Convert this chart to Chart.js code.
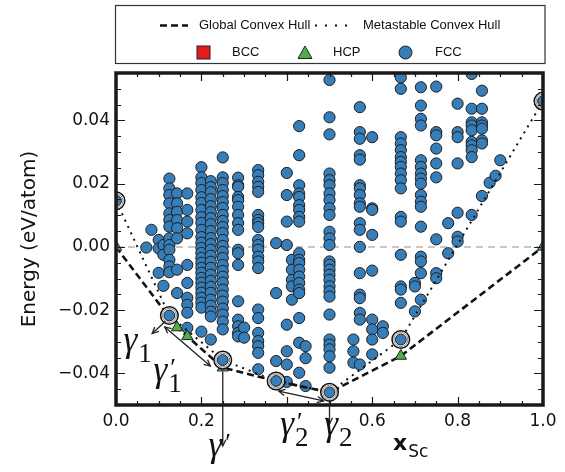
<!DOCTYPE html>
<html>
<head>
<meta charset="utf-8">
<script src="https://cdn.jsdelivr.net/npm/chart.js@4.4.1/dist/chart.umd.min.js"></script>
<style>
  html, body { margin: 0; padding: 0; background: #fff; }
  #chart-wrap { width: 565px; height: 472px; }
</style>
</head>
<body>
<div id="chart-wrap"><canvas id="chart-canvas" width="565" height="472"></canvas></div>
<script>
// Sc fraction x and formation energy (eV/atom)
const fccComp = [0.071, 0.083, 0.1, 0.111, 0.125, 0.143, 0.167, 0.2, 0.222, 0.25, 0.286, 0.3, 0.333,
  0.375, 0.4, 0.412, 0.429, 0.444, 0.5, 0.556, 0.571, 0.6, 0.625, 0.667, 0.7, 0.714, 0.75, 0.778,
  0.8, 0.833, 0.857, 0.875, 0.889, 0.9];
const fccEnergy = [
  [-0.0002],
  [0.0054],
  [0.0022, -0.0005, -0.0082],
  [0.0006, -0.0025, -0.0123],
  [0.0216, 0.0185, 0.0164, 0.0138, 0.0106, 0.0085, 0.0064, 0.0027, 0.0006, -0.0009, -0.0041, -0.0062, -0.0080],
  [0.0169, 0.0138, 0.0111, 0.0085, 0.0059, 0.0027, -0.0072, -0.0146],
  [0.0169, 0.0117, 0.0080, 0.0043, -0.0057, -0.0114, -0.0161, -0.0183, -0.0208, -0.0256],
  [0.0252, 0.0220, 0.0202, 0.0180, 0.0157, 0.0139, 0.0117, 0.0094, 0.0076, 0.0054, 0.0031, 0.0013, -0.0003,
   -0.0019, -0.0035, -0.0050, -0.0066, -0.0082, -0.0098, -0.0113, -0.0129, -0.0145, -0.0161, -0.0176, -0.0192, -0.0268],
  [0.0208, 0.0189, 0.0173, 0.0151, 0.0129, 0.0110, 0.0091, 0.0072, 0.0050, 0.0028, 0.0009, -0.0009, -0.0028,
   -0.0047, -0.0066, -0.0088, -0.0107, -0.0126, -0.0145, -0.0167, -0.0186, -0.0205, -0.0220, -0.0293],
  [0.0283, 0.0220, 0.0202, 0.0180, 0.0161, 0.0142, 0.0123, 0.0101, 0.0082, 0.0063, 0.0044, 0.0022, 0.0003,
   -0.0016, -0.0035, -0.0057, -0.0076, -0.0094, -0.0113, -0.0135, -0.0154, -0.0173, -0.0195, -0.0214, -0.0236, -0.0261],
  [0.0219, 0.0195, 0.0190, 0.0158, 0.0148, 0.0127, 0.0101, 0.0075, 0.0054, -0.0009, -0.0020, -0.0057, -0.0172,
   -0.0230, -0.0251, -0.0272, -0.0283],
  [-0.0255, -0.0287],
  [0.0243, 0.0227, 0.0206, 0.0190, 0.0174, 0.0101, 0.0085, 0.0075, 0.0063, 0.0022, 0.0006, -0.0009, -0.0031,
   -0.0046, -0.0067, -0.0198, -0.0225, -0.0272, -0.0298, -0.0314, -0.0335, -0.0387],
  [0.0012, -0.0146, -0.0361],
  [0.0234, 0.0164, 0.0080, 0.0006, -0.0246, -0.0330, -0.0372, -0.0427],
  [-0.0041, -0.0072, -0.0104, -0.0125, -0.0167],
  [0.0382, 0.0290, 0.0195, 0.0169, 0.0158, 0.0132, 0.0117, 0.0095, 0.0080, -0.0020, -0.0041, -0.0051, -0.0072,
   -0.0094, -0.0114, -0.0135, -0.0146, -0.0225, -0.0303, -0.0398],
  [-0.0314, -0.0352, -0.0440],
  [0.0528, 0.0410, 0.0356, 0.0232, 0.0211, 0.0195, 0.0169, 0.0148, 0.0122, 0.0101, 0.0048, 0.0027, 0.0006,
   -0.0046, -0.0057, -0.0072, -0.0088, -0.0104, -0.0125, -0.0141, -0.0157, -0.0214, -0.0293, -0.0309, -0.0324, -0.0346, -0.0382],
  [-0.0293, -0.0330, -0.0366],
  [0.0442, 0.0363, 0.0342, 0.0290, 0.0276, 0.0195, 0.0185, 0.0164, 0.0138, 0.0127, 0.0075, 0.0054, 0.0000,
   -0.0083, -0.0151, -0.0162, -0.0209, -0.0230, -0.0372],
  [0.0347, 0.0122, 0.0117, 0.0038, -0.0075, -0.0230, -0.0261, -0.0293, -0.0340],
  [-0.0251, -0.0272],
  [0.0536, 0.0500, 0.0347, 0.0327, 0.0306, 0.0284, 0.0269, 0.0253, 0.0232, 0.0211, 0.0185, 0.0095, 0.0080,
   -0.0025, -0.0125, -0.0135, -0.0177],
  [-0.0114, -0.0125, -0.0204],
  [0.0505, 0.0447, 0.0405, 0.0384, 0.0274, 0.0253, 0.0232, 0.0216, 0.0200, 0.0164, 0.0143, 0.0127, 0.0064,
   -0.0031, -0.0046, -0.0083, -0.0167],
  [0.0507, 0.0363, 0.0353, 0.0311, 0.0264, 0.0220, 0.0024, -0.0083, -0.0099],
  [0.0075, -0.0020],
  [0.0453, 0.0363, 0.0347, 0.0264, 0.0108, 0.0032, 0.0017],
  [0.0547, 0.0437, 0.0394, 0.0384, 0.0369, 0.0332, 0.0321, 0.0306, 0.0284, 0.0101],
  [0.0494, 0.0437, 0.0394, 0.0384, 0.0374, 0.0337, 0.0327, 0.0161],
  [0.0203],
  [0.0225],
  [0.0274]
];

// highlighted (ringed) structures on the metastable hull
const ringComp = [0, 0.125, 0.25, 0.375, 0.5, 0.667, 1.0];
const ringEnergy = [0.0146, -0.0217, -0.0358, -0.0424, -0.046, -0.0293, 0.0461];

const hcpComp = [0, 0.143, 0.167, 0.25, 0.667, 1.0];
const hcpEnergy = [0.0, -0.0255, -0.0283, -0.0382, -0.0345, 0.0];

const bccComp = [];
const bccEnergy = [];

const globalComp = [0, 0.143, 0.167, 0.25, 0.375, 0.5, 0.667, 1.0];
const globalEnergy = [0, -0.0255, -0.0283, -0.0382, -0.0424, -0.046, -0.0345, 0];

const metaComp = [0, 0.125, 0.25, 0.375, 0.5, 0.667, 1.0];
const metaEnergy = [0.0146, -0.0217, -0.0358, -0.0424, -0.046, -0.0293, 0.0461];

// 0.4 has no label in the figure (the gamma_2' label sits there)
const xTicks = [0, 0.2, 0.6, 0.8, 1.0];
const yTicks = [-0.04, -0.02, 0, 0.02, 0.04];

// phase labels: gamma anchor (data coords), subscript, prime
const phaseLabels = [
  { x: 0.0175, y: -0.0328, sub: '1', prime: false },
  { x: 0.0877, y: -0.0425, sub: '1', prime: true },
  { x: 0.2164, y: -0.0661, sub: '', prime: true },
  { x: 0.3848, y: -0.0595, sub: '2', prime: true },
  { x: 0.4877, y: -0.0595, sub: '2', prime: false }
];
// arrows: [x0, y0, x1, y1, heads]
const arrows = [
  [0.1158, -0.0235, 0.0847, -0.0274, 'end'],
  [0.1142, -0.0253, 0.2210, -0.0377, 'both'],
  [0.25, -0.0394, 0.25, -0.0630, 'end'],
  [0.381, -0.0456, 0.486, -0.0487, 'both'],
  [0.5, -0.0485, 0.5, -0.0560, 'end']
];

const BLUE = '#377eb8', GREEN = '#4daf4a', RED = '#e41a1c';

const zip = (xs, ys) => xs.map((x, i) => ({ x: x, y: ys[i] }));
const fccPoints = fccComp.flatMap((c, i) => fccEnergy[i].map(e => ({ x: c, y: e })));

function head(ctx, x0, y0, x1, y1) {
  const ang = Math.atan2(y1 - y0, x1 - x0), L = 7, w = 0.45;
  ctx.beginPath();
  ctx.moveTo(x1 - L * Math.cos(ang - w), y1 - L * Math.sin(ang - w));
  ctx.lineTo(x1, y1);
  ctx.lineTo(x1 - L * Math.cos(ang + w), y1 - L * Math.sin(ang + w));
  ctx.stroke();
}

// thick frame with inward major/minor ticks on all four sides
const frameTicks = {
  id: 'frameTicks',
  afterDatasetsDraw(chart) {
    const { ctx, chartArea: a, scales: { x, y } } = chart;
    ctx.save();
    ctx.strokeStyle = '#1a1a1a';
    ctx.lineWidth = 1.2;
    ctx.beginPath();
    for (let i = 0; i <= 20; i++) {
      const px = Math.round(x.getPixelForValue(i * 0.05)) + 0.5;
      const len = i % 4 === 0 ? 8 : 4;
      ctx.moveTo(px, a.bottom); ctx.lineTo(px, a.bottom - len);
      ctx.moveTo(px, a.top); ctx.lineTo(px, a.top + len);
    }
    for (let i = -10; i <= 11; i++) {
      const py = Math.round(y.getPixelForValue(i * 0.005)) + 0.5;
      const len = i % 4 === 0 ? 9 : 5;
      ctx.moveTo(a.left, py); ctx.lineTo(a.left + len, py);
      ctx.moveTo(a.right, py); ctx.lineTo(a.right - len, py);
    }
    ctx.stroke();
    ctx.lineWidth = 3.5;
    ctx.strokeRect(a.left, a.top, a.right - a.left, a.bottom - a.top);
    ctx.restore();
  }
};

const annotations = {
  id: 'annotations',
  afterDraw(chart) {
    const { ctx, chartArea: a, scales: { x, y } } = chart;
    ctx.save();
    ctx.strokeStyle = '#222';
    ctx.lineWidth = 1.3;
    arrows.forEach(([x0, y0, x1, y1, heads]) => {
      const p0 = [x.getPixelForValue(x0), y.getPixelForValue(y0)];
      const p1 = [x.getPixelForValue(x1), y.getPixelForValue(y1)];
      ctx.beginPath();
      ctx.moveTo(p0[0], p0[1]); ctx.lineTo(p1[0], p1[1]);
      ctx.stroke();
      head(ctx, p0[0], p0[1], p1[0], p1[1]);
      if (heads === 'both') head(ctx, p1[0], p1[1], p0[0], p0[1]);
    });

    ctx.fillStyle = '#111';
    ctx.textAlign = 'left';
    ctx.textBaseline = 'alphabetic';
    phaseLabels.forEach(lab => {
      const px = x.getPixelForValue(lab.x), py = y.getPixelForValue(lab.y);
      ctx.font = 'italic 35px "Liberation Serif"';
      ctx.fillText('\u03b3', px, py);
      const w = ctx.measureText('\u03b3').width;
      if (lab.sub) {
        ctx.font = '27px "Liberation Serif"';
        ctx.fillText(lab.sub, px + w + 1, py + 11);
      }
      if (lab.prime) {
        ctx.font = '26px "Liberation Serif"';
        ctx.fillText('\u2032', px + w + 3, py - 5);
      }
    });

    // x axis title: bold x with subscript Sc
    const tx = x.getPixelForValue(0.649), ty = a.bottom + 45;
    ctx.font = 'bold 22px "DejaVu Sans"';
    ctx.fillText('x', tx, ty);
    const xw = ctx.measureText('x').width;
    ctx.font = '17px "DejaVu Sans"';
    ctx.fillText('Sc', tx + xw + 1, ty + 7);
    ctx.restore();
  }
};

const legendBox = {
  id: 'legendBox',
  afterDraw(chart) {
    const { ctx, chartArea: a } = chart;
    const left = a.left - 0.5, right = a.right + 2, top = 5.5, bottom = 63.5;
    const r1 = 25.5, r2 = 52.5;
    ctx.save();
    ctx.strokeStyle = '#333';
    ctx.lineWidth = 1.2;
    ctx.strokeRect(left, top, right - left, bottom - top);

    ctx.strokeStyle = '#111';
    ctx.lineWidth = 2.5;
    ctx.setLineDash([7, 4]);
    ctx.beginPath(); ctx.moveTo(160, r1); ctx.lineTo(188, r1); ctx.stroke();
    ctx.lineWidth = 2;
    ctx.setLineDash([2, 8]);
    ctx.beginPath(); ctx.moveTo(315, r1); ctx.lineTo(350, r1); ctx.stroke();
    ctx.setLineDash([]);

    ctx.fillStyle = '#111';
    ctx.font = '13px "Liberation Sans"';
    ctx.textBaseline = 'middle';
    ctx.textAlign = 'left';
    ctx.fillText('Global Convex Hull', 199, r1);
    ctx.fillText('Metastable Convex Hull', 363, r1);
    ctx.fillText('BCC', 232, r2);
    ctx.fillText('HCP', 333, r2);
    ctx.fillText('FCC', 435, r2);

    ctx.lineWidth = 1;
    ctx.strokeStyle = '#222';
    ctx.fillStyle = RED;
    ctx.fillRect(197, r2 - 6.5, 13, 13);
    ctx.strokeRect(197, r2 - 6.5, 13, 13);
    ctx.fillStyle = GREEN;
    ctx.beginPath();
    ctx.moveTo(305, r2 - 6.5); ctx.lineTo(312, r2 + 6); ctx.lineTo(298, r2 + 6); ctx.closePath();
    ctx.fill(); ctx.stroke();
    ctx.fillStyle = BLUE;
    ctx.beginPath(); ctx.arc(405.5, r2, 6.5, 0, Math.PI * 2); ctx.fill(); ctx.stroke();
    ctx.restore();
  }
};

new Chart(document.getElementById('chart-canvas'), {
  type: 'scatter',
  plugins: [frameTicks, annotations, legendBox],
  data: {
    datasets: [
      {
        label: 'zero', type: 'line', data: [{ x: 0, y: 0 }, { x: 1, y: 0 }],
        borderColor: '#b5b5b5', borderWidth: 1.5, borderDash: [7, 5], pointRadius: 0, order: 10, clip: 0
      },
      {
        label: 'FCC', data: fccPoints, pointRadius: 5.6, borderWidth: 1,
        backgroundColor: BLUE, borderColor: '#1e1e1e', order: 9, clip: 0
      },
      {
        label: 'BCC', data: zip(bccComp, bccEnergy), pointStyle: 'rect', pointRadius: 6,
        backgroundColor: RED, borderColor: '#222', order: 8, clip: 0
      },
      {
        label: 'Global Convex Hull', type: 'line', data: zip(globalComp, globalEnergy),
        borderColor: '#111', borderWidth: 2.6, borderDash: [7, 4], pointRadius: 0, order: 7, clip: 0
      },
      {
        label: 'Metastable Convex Hull', type: 'line', data: zip(metaComp, metaEnergy),
        borderColor: '#111', borderWidth: 2, borderDash: [2, 5], pointRadius: 0, order: 6, clip: 0
      },
      {
        label: 'HCP', data: zip(hcpComp, hcpEnergy), pointStyle: 'triangle', pointRadius: 6.5,
        borderWidth: 1, backgroundColor: GREEN, borderColor: '#222', order: 5, clip: 0
      },
      {
        label: 'ring outer', data: zip(ringComp, ringEnergy), pointRadius: 8.8, borderWidth: 1.5,
        backgroundColor: '#fff', borderColor: '#111', order: 4, clip: 0
      },
      {
        label: 'ring mid', data: zip(ringComp, ringEnergy), pointRadius: 7, borderWidth: 1,
        backgroundColor: '#fff', borderColor: '#888', order: 3, clip: 0
      },
      {
        label: 'ring inner', data: zip(ringComp, ringEnergy), pointRadius: 5.4, borderWidth: 1,
        backgroundColor: BLUE, borderColor: '#1e1e1e', order: 2, clip: 0
      }
    ]
  },
  options: {
    responsive: false,
    animation: false,
    events: [],
    layout: { padding: { top: 73, right: 22, left: 0, bottom: 0 } },
    plugins: {
      legend: { display: false },
      tooltip: { enabled: false }
    },
    scales: {
      x: {
        type: 'linear',
        min: 0,
        max: 1,
        afterFit: function(scale) { scale.height = 67; },
        afterBuildTicks: function(axis) {
          axis.ticks = xTicks.map(v => ({ value: v }));
        },
        grid: { display: false, drawTicks: false },
        border: { display: false },
        ticks: {
          padding: 6,
          maxRotation: 0,
          color: '#111',
          font: { family: 'DejaVu Sans', size: 17 },
          callback: val => val.toFixed(1)
        }
      },
      y: {
        type: 'linear',
        min: -0.05,
        max: 0.055,
        afterFit: function(scale) { scale.width = 116; },
        afterBuildTicks: function(axis) {
          axis.ticks = yTicks.map(v => ({ value: v }));
        },
        grid: { display: false, drawTicks: false },
        border: { display: false },
        title: {
          display: true,
          text: 'Energy (eV/atom)',
          color: '#111',
          font: { family: 'DejaVu Sans', size: 20 },
          padding: { top: 18, bottom: 0 }
        },
        ticks: {
          padding: 6,
          color: '#111',
          font: { family: 'DejaVu Sans', size: 17 },
          callback: val => (val < 0 ? '\u2212' : '') + Math.abs(val).toFixed(2)
        }
      }
    }
  }
});
</script>
</body>
</html>
